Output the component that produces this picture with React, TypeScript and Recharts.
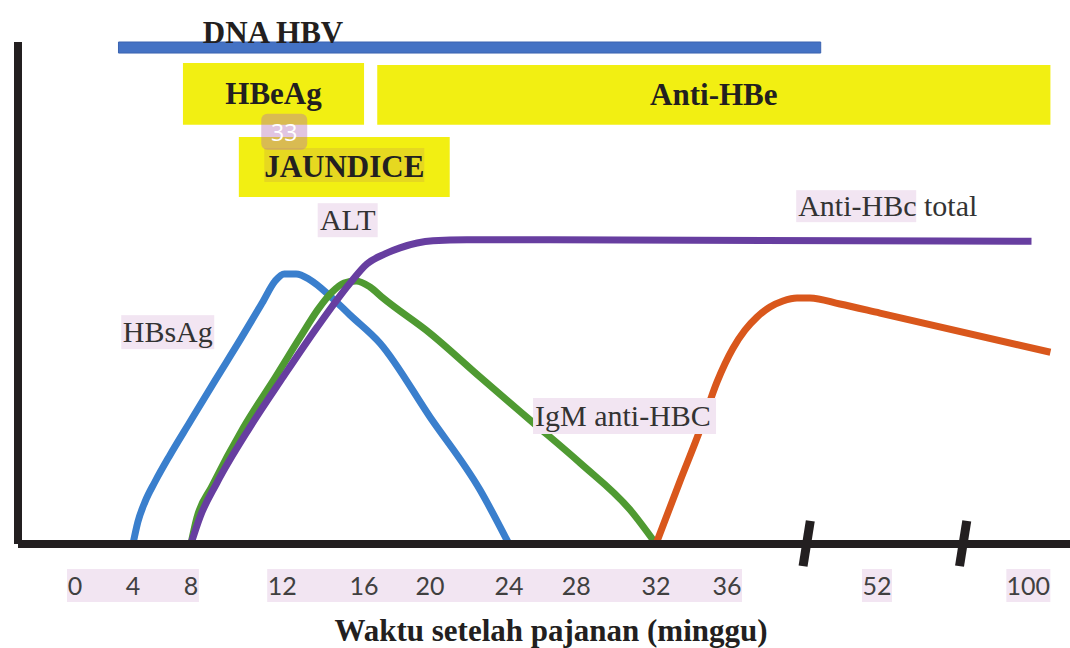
import React from 'react';
import { LineChart, Line, XAxis, YAxis, ReferenceArea, ReferenceLine, ReferenceDot } from 'recharts';

// time axis (weeks after exposure), hand-spaced and broken after 36 and after 52
const tickWeeks = [0, 4, 8, 12, 16, 20, 24, 28, 32, 36, 52, 100];
const tickLabels = ['0', '4', '8', '12', '16', '20', '24', '28', '32', '36', '52', '100'];
// axis layout: where each week label sits on the drawn axis (label-spacing units)
const tickPos = [0, 0.8, 1.6, 2.86, 3.99, 4.9, 5.99, 6.92, 8.02, 9.0, 11.07, 13.16];
const breakPos = [10.1, 12.26];
const tickGroup = [0, 0, 0, 1, 1, 1, 1, 1, 1, 1, 2, 3];

// curves: week / relative level (0-100)
const hbsagWeeks = [4, 4.34, 4.83, 5.52, 6.55, 7.93, 9.05, 10.15, 11.12, 11.69, 12.1, 12.68, 13.37, 14.34, 15.32, 16.97, 20, 22.53, 24];
const hbsagLevel = [0, 4.4, 8.4, 12.4, 17.7, 24.3, 32.5, 40.6, 48, 52.4, 53.8, 53.8, 52.6, 49.4, 45.6, 40, 25.3, 10.8, 0];

const igmWeeks = [8, 8.26, 8.92, 10.29, 11.74, 12.88, 13.76, 14.44, 15.02, 15.61, 16.36, 17.15, 20, 22.53, 25.25, 28.2, 30.7, 32];
const igmLevel = [0, 5.2, 11.5, 23.1, 33.5, 41.2, 46.8, 50.2, 52, 52.4, 51.2, 49, 42, 33.3, 24.7, 16.1, 6.8, 0];

const hbcTotalWeeks = [8, 8.4, 9.14, 10.59, 12.05, 13.71, 15.32, 16.18, 17.27, 18.18, 20.15, 21.87, 26.45, 101];
const hbcTotalLevel = [0, 5.4, 12.2, 23.3, 33.3, 43.2, 52, 55.8, 57.8, 59, 60.4, 60.6, 60.6, 60.3];

const antiHbsWeeks = [32, 33.35, 34.48, 35.44, 36.64, 37.92, 39.2, 40.59, 41.97, 43.47, 44.85, 48.05, 52.95, 107];
const antiHbsLevel = [0, 12.5, 22.7, 32.3, 39, 42.6, 45.2, 47.2, 48.4, 49, 49, 47.8, 46, 38.2];

// marker spans (weeks)
const spanNames = ['DNA HBV', 'HBeAg', 'Anti-HBe', 'JAUNDICE'];
const spanStart = [3, 7.45, 16.8, 10.1];
const spanEnd = [46, 16, 107, 21];

// free labels: name / week / level
const labelNames = ['DNA HBV', 'HBsAg', 'ALT', 'Anti-HBc total', 'IgM anti-HBC'];
const labelWeeks = [11.6, 6.4, 15.2, 43.6, 25.55];
const labelLevel = [100, 42.2, 64.5, 67.3, 25.5];

const X_MIN = -0.787;
const X_MAX = 13.735;
const W = 1070;
const H = 648;
const LEFT = 18;
const PX_PER_UNIT = (W - LEFT) / (X_MAX - X_MIN);
const PINK = '#f2e5f2';
const INK = '#231f20';
const SERIF = '"Liberation Serif", "Times New Roman", serif';

const toAxis = (week: number) => {
  let i = 0;
  while (i < tickWeeks.length - 2 && week > tickWeeks[i + 1]) i++;
  const t = (week - tickWeeks[i]) / (tickWeeks[i + 1] - tickWeeks[i]);
  return tickPos[i] + t * (tickPos[i + 1] - tickPos[i]);
};

const series = (weeks: number[], level: number[]) => weeks.map((w, i) => ({ x: toAxis(w), v: level[i] }));

const hbsag = series(hbsagWeeks, hbsagLevel);
const igm = series(igmWeeks, igmLevel);
const hbcTotal = series(hbcTotalWeeks, hbcTotalLevel);
const antiHbs = series(antiHbsWeeks, antiHbsLevel);

const TimeTick = (props: any) => {
  const { x, y, payload } = props;
  const i = tickPos.indexOf(payload.value);
  if (i < 0) return null;
  const label = tickLabels[i];
  const half = label.length * 7 + 1;
  const same = (j: number) => j >= 0 && j < tickPos.length && tickGroup[j] === tickGroup[i];
  const left = same(i - 1) ? ((tickPos[i] - tickPos[i - 1]) / 2) * PX_PER_UNIT + 1 : half;
  const right = same(i + 1) ? ((tickPos[i + 1] - tickPos[i]) / 2) * PX_PER_UNIT + 1 : half;
  return (
    <g>
      <rect x={x - left} y={y + 25} width={left + right} height={33} fill={PINK} />
      <text x={x} y={y + 51} textAnchor="middle" fontFamily="Lato, sans-serif" fontSize={25} fill="#404040">
        {label}
      </text>
    </g>
  );
};

const boxText = (name: string) => (p: any) => {
  const vb = p.viewBox;
  const cx = vb.x + vb.width / 2;
  const cy = vb.y + vb.height / 2;
  return (
    <g>
      {name === 'JAUNDICE' && <rect x={cx - 80} y={cy - 19} width={160} height={34} fill="#e6d820" />}
      <text x={cx} y={cy + 10.5} textAnchor="middle" fontFamily={SERIF} fontWeight="bold" fontSize={31} fill={INK}>
        {name}
      </text>
    </g>
  );
};

const freeText = (name: string) => (p: any) => {
  const vb = p.viewBox;
  const cx = vb.x + vb.width / 2;
  const cy = vb.y + vb.height / 2;
  if (name === 'DNA HBV') {
    return (
      <text x={cx} y={cy + 1} textAnchor="middle" fontFamily={SERIF} fontWeight="bold" fontSize={31} fill={INK}>
        {name}
      </text>
    );
  }
  if (name === 'Anti-HBc total') {
    return (
      <g>
        <rect x={cx - 2} y={cy - 16} width={120} height={32} fill={PINK} />
        <text x={cx} y={cy + 10} fontFamily={SERIF} fontSize={30} fill="#333">
          {name}
        </text>
      </g>
    );
  }
  if (name === 'IgM anti-HBC') {
    return (
      <g>
        <rect x={cx - 2} y={cy - 18} width={183} height={36} fill={PINK} />
        <text x={cx} y={cy + 10} fontFamily={SERIF} fontSize={30} fill="#333">
          {name}
        </text>
      </g>
    );
  }
  const w = name === 'ALT' ? 60 : 93;
  return (
    <g>
      <rect x={cx - w / 2} y={cy - 17} width={w} height={34} fill={PINK} />
      <text x={cx} y={cy + 10} textAnchor="middle" fontFamily={SERIF} fontSize={30} fill="#333">
        {name}
      </text>
    </g>
  );
};

const badge = (p: any) => {
  const vb = p.viewBox;
  const cx = vb.x + vb.width / 2;
  const cy = vb.y + vb.height / 2;
  return (
    <g>
      <rect x={cx - 23} y={cy - 18} width={46} height={36} rx={6} fill="rgba(180,110,180,0.4)" />
      <text x={cx} y={cy + 9} textAnchor="middle" fontFamily="'Open Sans', sans-serif" fontSize={23} fill="#fff">
        33
      </text>
    </g>
  );
};

const spanLevels: [number, number][] = [
  [97.8, 100],
  [83.5, 95.8],
  [83.5, 95.4],
  [69.1, 81.1],
];

const App = () => (
  <div style={{ position: 'absolute', left: 0, top: 0, width: W, height: H, background: '#fff' }}>
    <LineChart width={W} height={H} margin={{ top: 42, right: 0, bottom: 0, left: LEFT }}>
      <XAxis
        type="number"
        dataKey="x"
        domain={[X_MIN, X_MAX]}
        allowDataOverflow
        ticks={tickPos}
        interval={0}
        height={104}
        tickSize={0}
        tickMargin={0}
        tickLine={false}
        axisLine={{ stroke: INK, strokeWidth: 8 }}
        tick={<TimeTick />}
        label={(p: any) => {
          const vb = p.viewBox;
          return (
            <text
              x={vb.x + vb.width / 2 + 7}
              y={vb.y + 97}
              textAnchor="middle"
              fontFamily={SERIF}
              fontWeight="bold"
              fontSize={31}
              fill={INK}
            >
              Waktu setelah pajanan (minggu)
            </text>
          );
        }}
      />
      <YAxis type="number" domain={[0, 100]} hide />
      <ReferenceLine x={X_MIN} stroke={INK} strokeWidth={8} ifOverflow="visible" />
      {spanNames.map((n, i) => (
        <ReferenceArea
          key={n}
          x1={toAxis(spanStart[i])}
          x2={toAxis(spanEnd[i])}
          y1={spanLevels[i][0]}
          y2={spanLevels[i][1]}
          fill={n === 'DNA HBV' ? '#4472c4' : '#f2ef12'}
          fillOpacity={1}
          stroke={n === 'DNA HBV' ? '#3a63b0' : 'none'}
          ifOverflow="visible"
          label={n === 'DNA HBV' ? undefined : boxText(n)}
        />
      ))}
      <Line data={hbsag} dataKey="v" type="monotone" stroke="#3a7fcd" strokeWidth={7} dot={false} isAnimationActive={false} />
      <Line data={igm} dataKey="v" type="monotone" stroke="#4f9a32" strokeWidth={7} dot={false} isAnimationActive={false} />
      <Line data={hbcTotal} dataKey="v" type="monotone" stroke="#673ea0" strokeWidth={7} dot={false} isAnimationActive={false} />
      <Line data={antiHbs} dataKey="v" type="monotone" stroke="#d9571c" strokeWidth={7} dot={false} isAnimationActive={false} />
      {breakPos.map((s) => (
        <ReferenceLine
          key={s}
          segment={[
            { x: s + 0.05, y: 4.6 },
            { x: s - 0.05, y: -4.4 },
          ]}
          stroke={INK}
          strokeWidth={9}
          ifOverflow="visible"
        />
      ))}
      {labelNames.map((n, i) => (
        <ReferenceDot
          key={n}
          x={toAxis(labelWeeks[i])}
          y={labelLevel[i]}
          r={0}
          fill="none"
          stroke="none"
          ifOverflow="visible"
          label={freeText(n)}
        />
      ))}
      <ReferenceDot x={toAxis(12.1)} y={82.1} r={0} fill="none" stroke="none" ifOverflow="visible" label={badge} />
    </LineChart>
  </div>
);

export default App;
